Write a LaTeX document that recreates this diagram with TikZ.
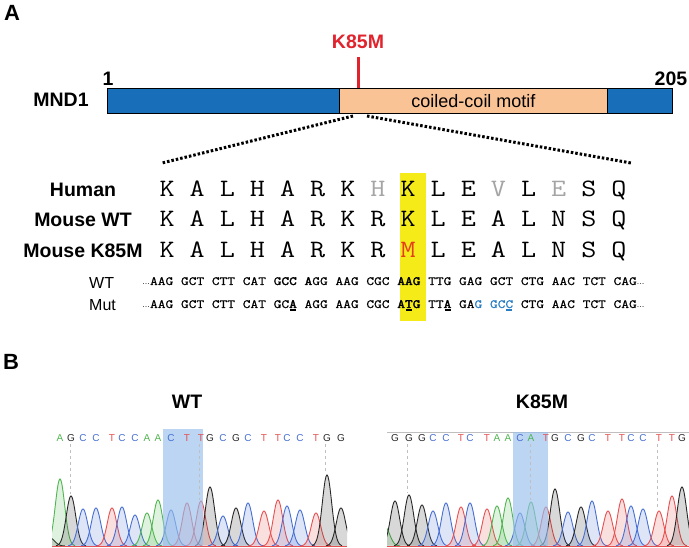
\documentclass[tikz,border=0pt]{standalone}
\usepackage{fontspec}
\setmainfont{Liberation Sans}
\newfontfamily\aaf[FakeStretch=1.17]{Latin Modern Mono}
\newfontfamily\dnaf[FakeStretch=1.2,FakeBold=0.8]{Latin Modern Mono}
\newfontfamily\dnab[FakeStretch=1.2,FakeBold=2.6]{Latin Modern Mono}
\definecolor{barblue}{RGB}{25,110,185}
\definecolor{barorange}{RGB}{250,195,150}
\definecolor{kred}{RGB}{225,35,45}
\definecolor{mred}{RGB}{230,60,30}
\definecolor{aagray}{RGB}{165,165,165}
\definecolor{hlyellow}{RGB}{245,235,25}
\definecolor{dnablue}{RGB}{40,125,195}
\definecolor{hlblue}{RGB}{150,190,235}
\definecolor{cg}{RGB}{80,180,80}
\definecolor{cb}{RGB}{70,110,210}
\definecolor{cr}{RGB}{230,80,80}
\definecolor{ck}{RGB}{40,40,40}
\newcommand\ulc[1]{\makebox[0pt][l]{\hspace{0.95pt}\rule[-2.8pt]{6pt}{1.5pt}}#1}
\newcommand\bd[1]{{\dnab\fontsize{12.5}{13}\selectfont #1}}
\newcommand\dnaell{\makebox[7.875pt][c]{\normalfont\fontsize{8}{8}\selectfont …}}
\newcommand\gy[1]{\textcolor{aagray}{#1}}
\begin{document}
\begin{tikzpicture}[x=1pt,y=-1pt,
  panel/.style={font=\bfseries\fontsize{22}{22}\selectfont, inner sep=0},
  lbl/.style={font=\bfseries\fontsize{19.5}{20}\selectfont, inner sep=0},
  sm/.style={font=\fontsize{16}{16}\selectfont, inner sep=0},
  aa/.style={font=\aaf\fontsize{25}{26}\selectfont, inner sep=0},
  dna/.style={font=\dnaf\fontsize{12.5}{13}\selectfont, inner sep=0},
  base/.style={font=\fontsize{10}{10}\selectfont, inner sep=0},
  dots/.style={line width=3pt, dash pattern=on 2.5pt off 2pt},
  guide/.style={gray!50, dashed, line width=0.5pt}]
\useasboundingbox (0,0) rectangle (689,548);

% ---------- Panel A ----------
\node[panel] (A) at (12,13) {A};
\node[lbl, text=kred] (kl) at (358,42) {K85M};
\coordinate (mt) at (358,57);
\coordinate (mb) at (358,88);
\draw[kred, line width=3pt] (mt) -- (mb);
\node[lbl] (one) at (108,79) {1};
\node[lbl] (n205) at (671,79) {205};
\node[lbl] (mnd) at (61,100) {MND1};
\node[draw, line width=1pt, fill=barblue, anchor=north west, minimum width=565pt, minimum height=25pt, inner sep=0] (bar) at (107,88) {};
\node[draw, line width=1pt, fill=barorange, anchor=north west, minimum width=268pt, minimum height=25pt, inner sep=0, font=\fontsize{18}{18}\selectfont] (cc) at (339,88) {coiled-coil motif};
\coordinate (dl0) at (353,116);
\coordinate (dl1) at (162,163);
\coordinate (dr0) at (367,116);
\coordinate (dr1) at (631,163);
\draw[dots] (dl0) -- (dl1);
\draw[dots] (dr0) -- (dr1);

\node[fill=hlyellow, anchor=north west, minimum width=26pt, minimum height=148pt, inner sep=0] (yel) at (400,173) {};

\node[lbl, anchor=base] (lh) at (83,197) {Human};
\node[lbl, anchor=base] (lw) at (83,227) {Mouse WT};
\node[lbl, anchor=base] (lk) at (83,258) {Mouse K85M};
\node[aa, anchor=base west] (sh) at (159.3,197) {K A L H A R K \gy{H} K L E \gy{V} L \gy{E} S Q};
\node[aa, anchor=base west] (sw) at (159.3,227) {K A L H A R K R K L E A L N S Q};
\node[aa, anchor=base west] (sk) at (159.3,258) {K A L H A R K R \textcolor{mred}{M} L E A L N S Q};

\node[sm, anchor=base west] (lwt) at (89,289) {WT};
\node[sm, anchor=base west] (lmut) at (89,311) {Mut};
\node[dna, anchor=base west] (dw) at (142,285) {\dnaell AAG GCT CTT CAT G\bd{CC} \bd{A}GG AAG CGC \bd{AAG} TTG GAG GCT CTG AAC TCT CAG\dnaell};
\node[dna, anchor=base west] (dm) at (142,308) {\dnaell AAG GCT CTT CAT GC\bd{\ulc{A}} AGG AAG CGC \bd{A\ulc{T}G} TT\bd{\ulc{A}} GA\textcolor{dnablue}{G} \textcolor{dnablue}{GC\ulc{C}} CTG AAC TCT CAG\dnaell};

% ---------- Panel B ----------
\node[panel] (B) at (11,362) {B};
\node[lbl] (twt) at (187,402) {WT};
\node[lbl] (tk) at (542,402) {K85M};

% WT chromatogram
\begin{scope}
\clip (52,425) rectangle (347,548);
\foreach \px/\ptop/\pc in {50/538/ck,60/479/cg,71/496/ck,83/509/cb,96/508/cb,112/508/cr,122/507/cb,135/515/cb,147/513/cg,158/500/cg,171/510/cb,187/503/cr,201/501/cr,210/487/ck,223/516/cb,236/508/ck,248/503/cb,264/511/cr,278/500/cr,287/506/cb,300/510/cb,316/513/cr,327/475/ck,341/508/ck}{
  \pgfmathsetmacro\lo{\px-15}
  \pgfmathsetmacro\hi{\px+15}
  \pgfmathsetmacro\hh{546-\ptop}
  \draw[color=\pc, line width=0.9pt, fill=\pc, fill opacity=0.18] plot[domain=\lo:\hi, samples=44, smooth] (\x,{546-\hh*exp(-((\x-\px)*(\x-\px))/44)});
}
\end{scope}
\draw[cr, line width=0.8pt] (52,546) -- (347,546);
\fill[hlblue, opacity=0.65] (163,429) rectangle (203,546);
\foreach \bx/\bl/\bc in {60/A/cg,71/G/ck,83/C/cb,96/C/cb,112/T/cr,122/C/cb,135/C/cb,147/A/cg,158/A/cg,171/C/cb,187/T/cr,201/T/cr,210/G/ck,223/C/cb,236/G/ck,248/C/cb,264/T/cr,278/T/cr,287/C/cb,300/C/cb,316/T/cr,327/G/ck,341/G/ck}{
  \node[base, text=\bc] at (\bx,438) {\bl};
}
\draw[guide] (70,444) -- (70,494);
\draw[guide] (199,444) -- (199,500);
\draw[guide] (325,444) -- (325,472);

% K85M chromatogram
\draw[gray!50, line width=0.6pt] (387,432) -- (689,432);
\begin{scope}
\clip (387,425) rectangle (689,548);
\foreach \px/\ptop/\pc in {385/527/cg,395/501/ck,409/495/ck,422/505/ck,433/511/cb,446/503/cb,461/507/cr,470/503/cb,487/509/cr,497/506/cg,508/498/cg,520/513/cb,531/502/cg,546/507/cr,555/489/ck,568/512/cb,581/507/ck,592/501/cb,608/511/cr,622/499/cr,631/506/cb,643/509/cb,659/511/cr,672/496/cr,682/487/ck}{
  \pgfmathsetmacro\lo{\px-15}
  \pgfmathsetmacro\hi{\px+15}
  \pgfmathsetmacro\hh{546-\ptop}
  \draw[color=\pc, line width=0.9pt, fill=\pc, fill opacity=0.18] plot[domain=\lo:\hi, samples=44, smooth] (\x,{546-\hh*exp(-((\x-\px)*(\x-\px))/44)});
}
\end{scope}
\draw[cr, line width=0.8pt] (387,546) -- (689,546);
\fill[hlblue, opacity=0.65] (513,432) rectangle (548,546);
\foreach \bx/\bl/\bc in {395/G/ck,409/G/ck,422/G/ck,433/C/cb,446/C/cb,461/T/cr,470/C/cb,487/T/cr,497/A/cg,508/A/cg,520/C/cb,531/A/cg,546/T/cr,555/G/ck,568/C/cb,581/G/ck,592/C/cb,608/T/cr,622/T/cr,631/C/cb,643/C/cb,659/T/cr,672/T/cr,682/G/ck}{
  \node[base, text=\bc] at (\bx,438) {\bl};
}
\draw[guide] (407,444) -- (407,493);
\draw[guide] (530,444) -- (530,500);
\draw[guide] (657,444) -- (657,508);
\end{tikzpicture}
\end{document}
